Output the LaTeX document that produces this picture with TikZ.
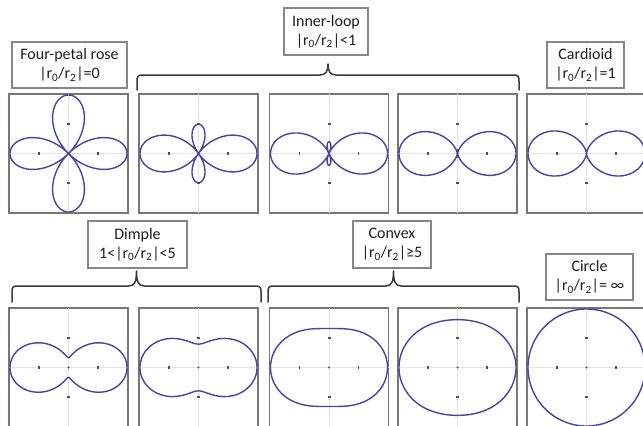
\documentclass[tikz,border=0pt]{standalone}
\usepackage{fontspec}
\setmainfont{Carlito}
\definecolor{frame}{HTML}{7C7572}
\definecolor{boxc}{HTML}{8A8582}
\definecolor{curvec}{HTML}{4646A2}
\definecolor{axisc}{HTML}{E4E4E4}
\definecolor{tickc}{HTML}{505050}
\definecolor{txt}{HTML}{1E1E1E}
\definecolor{bracec}{HTML}{3A3A3A}
\tikzset{
  panel/.style={draw=frame, line width=1.6bp, minimum width=119bp, minimum height=119bp, inner sep=0pt},
  curve/.style={draw=curvec, line width=1.4bp},
  axisline/.style={draw=axisc, line width=0.8bp},
  tickmark/.style={draw=tickc, line width=1.1bp},
  lbl/.style={draw=boxc, line width=1.4bp, fill=white, inner sep=0pt, align=center, font=\fontsize{16bp}{19bp}\selectfont, text=txt},
  bracestyle/.style={draw=bracec, line width=1.5bp, line cap=round, line join=round},
}
\newcommand\mypanel[5]{%
  \node[panel] (#1) at (#2,#3) {};
  \draw[axisline] (#2-59.5,#3) -- (#2+59.5,#3);
  \draw[axisline] (#2,#3-59.5) -- (#2,#3+59.5);
  \draw[tickmark] (#2-29.5,#3-1.5) -- (#2-29.5,#3+1.5);
  \draw[tickmark] (#2+29.5,#3-1.5) -- (#2+29.5,#3+1.5);
  \draw[tickmark] (#2-1.5,#3-29.5) -- (#2+1.5,#3-29.5);
  \draw[tickmark] (#2-1.5,#3+29.5) -- (#2+1.5,#3+29.5);
  \fill[tickc] (#2,#3) circle (1.1bp);
  \draw[curve] plot[domain=0:360, samples=240, smooth] ({#2+58.5*(#4+#5*cos(2*\x))*cos(\x)}, {#3+58.5*(#4+#5*cos(2*\x))*sin(\x)});
}
\newcommand\mybrace[5]{%
  \pgfmathsetmacro\bm{(#1+#2)/2}%
  \draw[bracestyle] (#1,#3) -- (#1,#4+6) .. controls (#1,#4+1) and (#1+1,#4) .. (#1+6,#4)
    -- (\bm-8,#4) .. controls (\bm-2,#4) and (\bm,#4-4) .. (\bm,#5)
    .. controls (\bm,#4-4) and (\bm+2,#4) .. (\bm+8,#4)
    -- (#2-6,#4) .. controls (#2-1,#4) and (#2,#4+1) .. (#2,#4+6) -- (#2,#3);
}
\begin{document}
\begin{tikzpicture}[x=1bp, y=-1bp]
\useasboundingbox (0,0) rectangle (643,425);
\fill[white] (0,0) rectangle (643,425);
\clip (0,0) rectangle (643,425);
% top row
\mypanel{t1}{68.5}{153.5}{0}{1}
\mypanel{t2}{198.5}{153.5}{0.25}{0.75}
\mypanel{t3}{329}{153.5}{0.4}{0.6}
\mypanel{t4}{457.5}{153.5}{0.47}{0.53}
\mypanel{t5}{586.5}{153.5}{0.5}{0.5}
% bottom row
\mypanel{b1}{68.5}{367.5}{0.585}{0.415}
\mypanel{b2}{198.5}{367.5}{0.7}{0.3}
\mypanel{b3}{329}{367.5}{0.8333}{0.1667}
\mypanel{b4}{457.5}{367.5}{0.909}{0.091}
\mypanel{b5}{586.5}{367.5}{1}{0}
% braces
\mybrace{137}{519}{90}{75}{64}
\mybrace{12}{261}{302}{286}{271}
\mybrace{268}{519}{302}{286}{271}
% labels
\node[lbl, minimum width=115bp, minimum height=46bp] (rose) at (69.5,65) {Four-petal rose\\|r\textsubscript{0}/r\textsubscript{2}|=0};
\node[lbl, minimum width=84bp, minimum height=47bp] (inner) at (326,31.5) {Inner-loop\\|r\textsubscript{0}/r\textsubscript{2}|<1};
\node[lbl, minimum width=77bp, minimum height=46bp] (card) at (585.5,65) {Cardioid\\|r\textsubscript{0}/r\textsubscript{2}|=1};
\node[lbl, minimum width=99bp, minimum height=47bp] (dimple) at (137.5,244.5) {Dimple\\1<|r\textsubscript{0}/r\textsubscript{2}|<5};
\node[lbl, minimum width=78bp, minimum height=47bp] (convex) at (392,244.5) {Convex\\|r\textsubscript{0}/r\textsubscript{2}|≥5};
\node[lbl, minimum width=87bp, minimum height=46bp] (circ) at (589.5,277) {Circle\\|r\textsubscript{0}/r\textsubscript{2}|= ∞};
\end{tikzpicture}
\end{document}
